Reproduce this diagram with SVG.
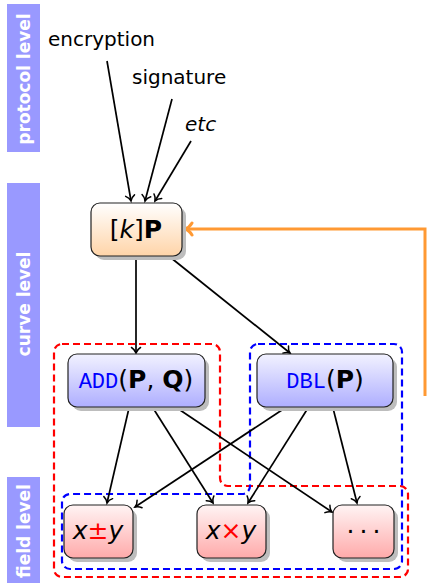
<svg xmlns="http://www.w3.org/2000/svg" width="428" height="583" viewBox="0 0 428 583">
<style>
.bar{fill:#9999ff}
.bartxt{font-family:"DejaVu Sans",sans-serif;font-weight:bold;font-size:17px;fill:#fff;text-anchor:middle;dominant-baseline:central}
.lbl{font-family:"DejaVu Sans",sans-serif;font-size:20px;fill:#000}
.box{stroke:#222;stroke-width:1.2}
.shadow{fill:#bdbdbd}
.ntxt{font-family:"DejaVu Sans",sans-serif;font-size:25px;fill:#000;text-anchor:middle}
.mono{font-family:"Liberation Mono","DejaVu Sans Mono",monospace;fill:#0000ff;font-size:22px}
.edge{stroke:#000;stroke-width:1.7;fill:none;marker-end:url(#ah)}
.dash{fill:none;stroke-width:2.2;stroke-dasharray:7 4}
</style>
<defs>
<linearGradient id="gOr" x1="0" y1="0" x2="0" y2="1"><stop offset="0" stop-color="#ffffff"/><stop offset="1" stop-color="#ffd4a8"/></linearGradient>
<linearGradient id="gBl" x1="0" y1="0" x2="0" y2="1"><stop offset="0" stop-color="#f2f2ff"/><stop offset="1" stop-color="#aeaeff"/></linearGradient>
<linearGradient id="gRd" x1="0" y1="0" x2="0" y2="1"><stop offset="0" stop-color="#fff4f4"/><stop offset="1" stop-color="#ffaaaa"/></linearGradient>
<marker id="ah" viewBox="-7 -6 9 12" refX="0" refY="0" markerWidth="9" markerHeight="12" orient="auto" markerUnits="userSpaceOnUse">
<path d="M-5.5,-4.5 C-4,-2 -1.5,-0.5 0,0 C-1.5,0.5 -4,2 -5.5,4.5" fill="none" stroke="#000" stroke-width="1.5" stroke-linecap="round"/>
</marker>
<marker id="ahO" viewBox="-9 -8 11 16" refX="0" refY="0" markerWidth="11" markerHeight="16" orient="auto" markerUnits="userSpaceOnUse">
<path d="M-7,-6 C-5,-2.5 -2,-0.6 0,0 C-2,0.6 -5,2.5 -7,6" fill="none" stroke="#ff9933" stroke-width="3" stroke-linecap="round"/>
</marker>
</defs>
<rect width="428" height="583" fill="#fff"/>

<g id="levels">
<rect class="bar" x="7" y="4" width="33" height="148"/>
<text class="bartxt" transform="translate(24,79) rotate(-90)">protocol level</text>
<rect class="bar" x="7" y="183" width="33" height="244"/>
<text class="bartxt" transform="translate(24,304) rotate(-90)">curve level</text>
<rect class="bar" x="7" y="477" width="33" height="106"/>
<text class="bartxt" transform="translate(24,531) rotate(-90)">field level</text>
</g>

<g id="regions">
<path class="dash" stroke="#ff0000" d="M62,344 H212 A8,8 0 0 1 220,352 V478 A8,8 0 0 0 228,486 H400 A8,8 0 0 1 408,494 V569 A8,8 0 0 1 400,577 H62 A8,8 0 0 1 54,569 V352 A8,8 0 0 1 62,344 Z"/>
<path class="dash" stroke="#0000ff" d="M258,344 H394 A8,8 0 0 1 402,352 V561 A8,8 0 0 1 394,569 H70 A8,8 0 0 1 62,561 V502 A8,8 0 0 1 70,494 H242 A8,8 0 0 0 250,486 V352 A8,8 0 0 1 258,344 Z"/>
</g>

<g id="labels">
<text class="lbl" x="48" y="46">encryption</text>
<text class="lbl" x="132" y="84">signature</text>
<text class="lbl" x="185" y="131" font-style="italic">etc</text>
</g>

<g id="connectors">
<line class="edge" x1="107" y1="61" x2="131" y2="201"/>
<line class="edge" x1="172" y1="99" x2="145" y2="201"/>
<line class="edge" x1="191" y1="141" x2="155" y2="201"/>
<line class="edge" x1="136" y1="257" x2="136" y2="353"/>
<line class="edge" x1="170" y1="257" x2="290" y2="353"/>
<line class="edge" x1="129" y1="408" x2="107" y2="503"/>
<line class="edge" x1="153" y1="408" x2="213" y2="503"/>
<line class="edge" x1="177" y1="408" x2="332" y2="512"/>
<line class="edge" x1="285" y1="408" x2="135" y2="507"/>
<line class="edge" x1="308" y1="408" x2="248" y2="503"/>
<line class="edge" x1="333" y1="408" x2="357" y2="503"/>
<path d="M425,396 V229 H185" fill="none" stroke="#ff9933" stroke-width="3" marker-end="url(#ahO)"/>
</g>

<g id="scalar">
<rect class="shadow" x="95" y="207" width="91" height="53" rx="9"/>
<rect class="box" x="91" y="203" width="91" height="53" rx="9" fill="url(#gOr)"/>
<text class="ntxt" x="136" y="238">[<tspan font-style="italic">k</tspan>]<tspan font-weight="bold">P</tspan></text>
</g>

<g id="add">
<rect class="shadow" x="72" y="358" width="137" height="53" rx="9"/>
<rect class="box" x="68" y="354" width="137" height="53" rx="9" fill="url(#gBl)"/>
<text class="ntxt" x="136" y="388"><tspan class="mono">ADD</tspan>(<tspan font-weight="bold">P</tspan>, <tspan font-weight="bold">Q</tspan>)</text>
</g>

<g id="dbl">
<rect class="shadow" x="261" y="358" width="136" height="53" rx="9"/>
<rect class="box" x="257" y="354" width="136" height="53" rx="9" fill="url(#gBl)"/>
<text class="ntxt" x="325" y="388"><tspan class="mono">DBL</tspan>(<tspan font-weight="bold">P</tspan>)</text>
</g>

<g id="addsub">
<rect class="shadow" x="68" y="509" width="69" height="53" rx="9"/>
<rect class="box" x="64" y="505" width="69" height="53" rx="9" fill="url(#gRd)"/>
<text class="ntxt" x="98" y="539"><tspan font-style="italic">x</tspan><tspan fill="#ff0000">±</tspan><tspan font-style="italic">y</tspan></text>
</g>

<g id="mul">
<rect class="shadow" x="201" y="509" width="69" height="53" rx="9"/>
<rect class="box" x="197" y="505" width="69" height="53" rx="9" fill="url(#gRd)"/>
<text class="ntxt" x="231" y="539"><tspan font-style="italic">x</tspan><tspan fill="#ff0000">×</tspan><tspan font-style="italic">y</tspan></text>
</g>

<g id="other">
<rect class="shadow" x="337" y="509" width="61" height="53" rx="9"/>
<rect class="box" x="333" y="505" width="61" height="53" rx="9" fill="url(#gRd)"/>
<text class="ntxt" x="366" y="540" font-size="24" letter-spacing="5">···</text>
</g>
</svg>
